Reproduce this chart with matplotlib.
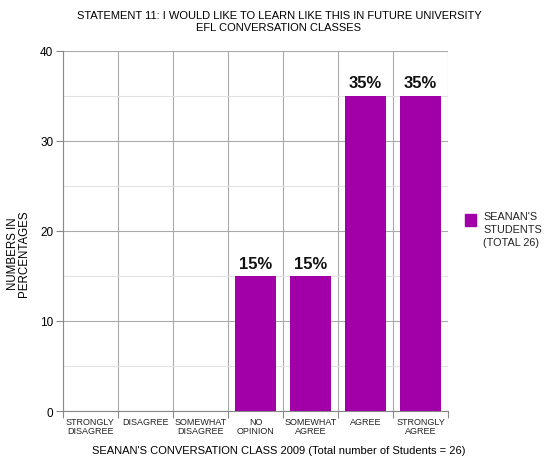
import matplotlib
matplotlib.use("Agg")
import matplotlib.pyplot as plt
from matplotlib.patches import Rectangle
import numpy as np

plt.rcParams["font.family"] = ["Liberation Sans", "DejaVu Sans"]

categories = [
    "STRONGLY\nDISAGREE",
    "DISAGREE",
    "SOMEWHAT\nDISAGREE",
    "NO\nOPINION",
    "SOMEWHAT\nAGREE",
    "AGREE",
    "STRONGLY\nAGREE",
]
percentages = [0, 0, 0, 15, 15, 35, 35]
series_name = "SEANAN'S\nSTUDENTS\n(TOTAL 26)"

bar_color = "#a100a8"

fig = plt.figure(figsize=(5.47, 4.6), dpi=100)
ax = fig.add_axes([0.115, 0.1043, 0.704, 0.783])

x = np.arange(len(categories))
bars = ax.bar(x, percentages, width=0.76, color=bar_color, zorder=3)

for xi, v in zip(x, percentages):
    if v > 0:
        ax.text(xi, v + 0.6, f"{v}%", ha="center", va="bottom",
                fontsize=12, fontweight="bold", color="#111111")

ax.set_xlim(-0.5, len(categories) - 0.5)
ax.set_ylim(0, 40)

# y axis: major ticks every 10, light lines at the halves
ax.set_yticks([0, 10, 20, 30, 40])
ax.set_yticks([5, 15, 25, 35], minor=True)
ax.tick_params(axis="y", which="major", length=5, color="#888888",
               labelsize=8.5, pad=2)
ax.tick_params(axis="y", which="minor", length=0)
ax.grid(axis="y", which="major", color="#aaaaaa", linewidth=0.8, zorder=1)
ax.grid(axis="y", which="minor", color="#e2e2e2", linewidth=0.8, zorder=1)

# x axis: separators between categories, labels centred under each
ax.set_xticks(np.arange(len(categories) + 1) - 0.5)
ax.set_xticklabels([])
ax.tick_params(axis="x", which="major", length=5, color="#888888")
ax.grid(axis="x", which="major", color="#aaaaaa", linewidth=0.8, zorder=1)
ax.set_xticks(x, minor=True)
ax.set_xticklabels(categories, minor=True, fontsize=6.5, color="#222222",
                   linespacing=1.0)
ax.tick_params(axis="x", which="minor", length=0, pad=4)

for side in ["top", "right"]:
    ax.spines[side].set_visible(False)
for side in ["left", "bottom"]:
    ax.spines[side].set_color("#888888")
    ax.spines[side].set_linewidth(0.8)

ax.set_ylabel("NUMBERS IN\nPERCENTAGES", fontsize=8.3, linespacing=0.95,
              labelpad=9)
ax.yaxis.set_label_coords(-0.085, 0.44)
ax.set_xlabel("SEANAN'S CONVERSATION CLASS 2009 (Total number of Students = 26)",
              fontsize=8, labelpad=9)
ax.xaxis.set_label_coords(0.56, -0.095)
fig.suptitle("STATEMENT 11: I WOULD LIKE TO LEARN LIKE THIS IN FUTURE UNIVERSITY\n"
             "EFL CONVERSATION CLASSES",
             x=0.51, y=0.977, fontsize=8, linespacing=1.3)

# legend: swatch aligned with the first line of the label
W, H = fig.get_size_inches() * fig.dpi
fig.add_artist(Rectangle((465 / W, 1 - 227 / H), 11 / W, 12 / H,
                         transform=fig.transFigure, color=bar_color))
fig.text(483 / W, 1 - 212 / H, series_name, fontsize=7.8, va="top",
         ha="left", linespacing=1.35, color="#222222")

fig.savefig("out.png", dpi=100)
